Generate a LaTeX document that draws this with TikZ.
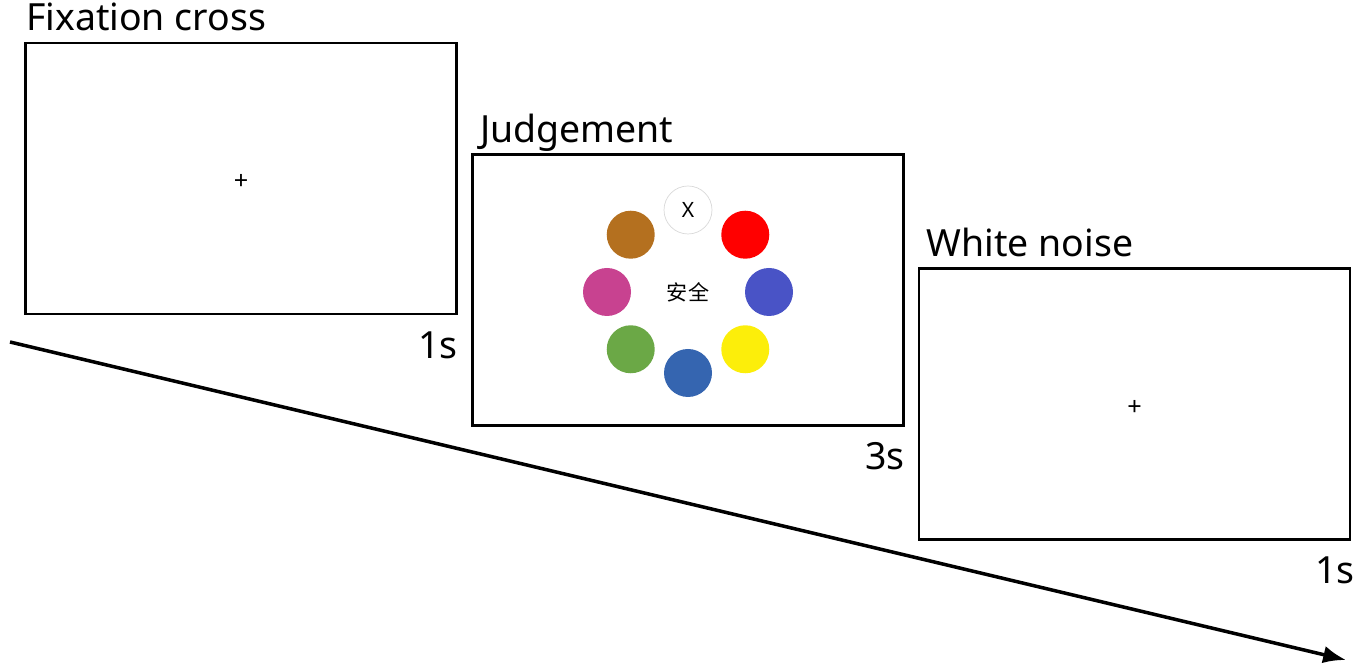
\documentclass[tikz,border=0pt]{standalone}
\usepackage{fontspec}
\setmainfont{Noto Sans}
\newfontfamily\cjk{Noto Sans CJK SC}
\usetikzlibrary{arrows.meta,calc}

\definecolor{cbrown}{HTML}{B4701F}
\definecolor{cred}{HTML}{FF0000}
\definecolor{cblue}{HTML}{4953C6}
\definecolor{cyellow}{HTML}{FCEE0A}
\definecolor{cdarkblue}{HTML}{3565B0}
\definecolor{cgreen}{HTML}{6BA846}
\definecolor{cpink}{HTML}{C84290}

\tikzset{
  screen/.style={draw, line width=1.6pt, minimum width=8.62cm, minimum height=5.42cm, inner sep=0pt},
  title/.style={anchor=base west, inner sep=0pt, font=\fontsize{21.3}{25}\selectfont},
  dur/.style={anchor=base east, inner sep=0pt, font=\fontsize{21.3}{25}\selectfont},
  dot/.style={circle, minimum size=0.96cm, inner sep=0pt}
}

\begin{document}
\begin{tikzpicture}[x=0.02cm, y=0.02cm]
    \useasboundingbox (0,0) rectangle (1356,668);

    % Time axis
    \coordinate (t0) at (10,326);
    \coordinate (t1) at (1346,8);
    \draw[-{Latex[length=13pt,width=10pt]}, line width=2pt] (t0) -- (t1);

    % Fixation cross screen
    \node[screen] (fix) at (241,489.5) {};
    \node[title] (fixlabel) at ([xshift=1pt, yshift=0.22cm]fix.north west) {Fixation cross};
    \node[font=\Large] (fixplus) at ([yshift=-2pt]fix.center) {+};
    \node[dur] (fixdur) at ([yshift=-0.86cm]fix.south east) {1s};

    % Judgement screen
    \node[screen] (judge) at (688,378) {};
    \node[title] (judgelabel) at ([xshift=5pt, yshift=0.22cm]judge.north west) {Judgement};
    \coordinate (ring) at (688,376);
    \node[dot, draw=black!15, fill=white, thin, font=\large] (cx) at ($(ring)+(90:82)$) {X};
    \foreach \ang/\col [count=\i] in {45/cred, 0/cblue, -45/cyellow, -90/cdarkblue, -135/cgreen, 180/cpink, 135/cbrown}
        \node[dot, fill=\col] (c\i) at ($(ring)+(\ang:81)$) {};
    \node[font=\cjk\large] (safe) at (ring) {安全};
    \node[dur] (judgedur) at ([yshift=-0.86cm]judge.south east) {3s};

    % White noise screen
    \node[screen] (noise) at (1134.5,264) {};
    \node[title] (noiselabel) at ([xshift=5pt, yshift=0.22cm]noise.north west) {White noise};
    \node[font=\Large] (noiseplus) at ([yshift=-2pt]noise.center) {+};
    \node[dur] (noisedur) at ([xshift=2pt, yshift=-0.86cm]noise.south east) {1s};
\end{tikzpicture}
\end{document}
